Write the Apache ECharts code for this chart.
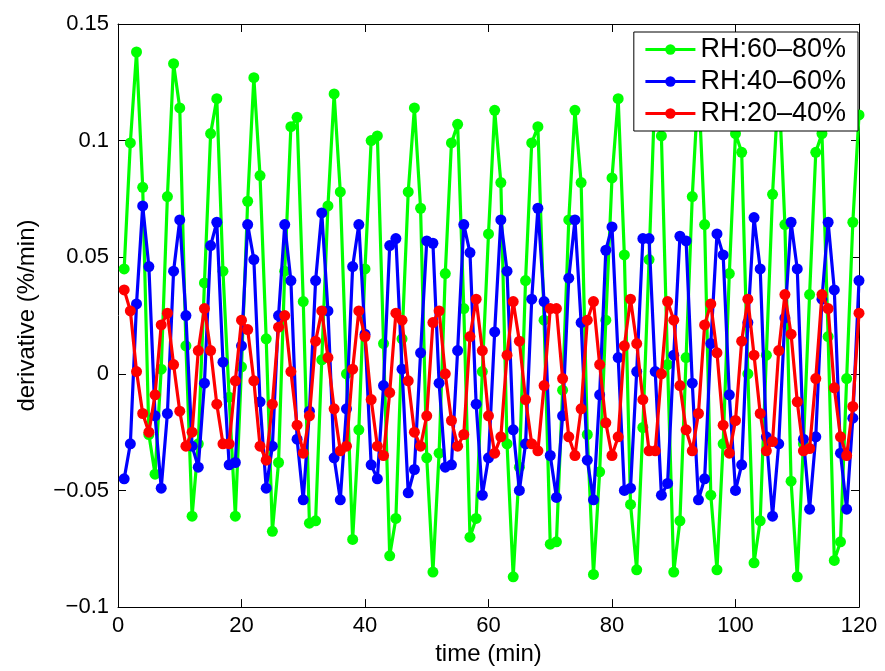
<!DOCTYPE html>
<html>
<head>
<meta charset="utf-8">
<script src="https://cdn.jsdelivr.net/npm/echarts@6/dist/echarts.min.js"></script>
<style>
html,body{margin:0;padding:0;background:#fff;}
#chart{width:885px;height:671px;}
</style>
</head>
<body>
<div id="chart"></div>
<script>
const seriesNames = ['RH:60\u201380%', 'RH:40\u201360%', 'RH:20\u201340%'];
const seriesColors = ['#00ff00', '#0000ff', '#ff0000'];
const xTicks = [0, 20, 40, 60, 80, 100, 120];
const yTicks = [-0.1, -0.05, 0, 0.05, 0.1, 0.15];

const rh6080 = [
 0.045, 0.099, 0.138, 0.080, -0.026, -0.043, 0.002, 0.076, 0.133, 0.114,
 0.012, -0.061, -0.030, 0.039, 0.103, 0.118, 0.044, -0.010, -0.061, 0.003,
 0.074, 0.127, 0.085, 0.015, -0.0675, -0.038, 0.044, 0.106, 0.110, 0.031,
 -0.064, -0.063, 0.006, 0.072, 0.120, 0.078, 0.000, -0.071, -0.024, 0.045,
 0.100, 0.102, 0.013, -0.078, -0.062, 0.015, 0.078, 0.114, 0.071, -0.036,
 -0.085, -0.034, 0.043, 0.099, 0.107, 0.028, -0.070, -0.062, 0.001, 0.060,
 0.113, 0.082, -0.030, -0.087, -0.040, 0.040, 0.099, 0.106, 0.023, -0.073,
 -0.072, -0.007, 0.066, 0.113, 0.082, -0.026, -0.086, -0.042, 0.023, 0.084,
 0.118, 0.051, -0.056, -0.084, -0.023, 0.049, 0.125, 0.102, 0.004, -0.085,
 -0.063, 0.007, 0.076, 0.125, 0.064, -0.052, -0.084, -0.030, 0.043, 0.103,
 0.095, 0.000, -0.081, -0.063, 0.008, 0.077, 0.125, 0.064, -0.046, -0.087,
 -0.030, 0.034, 0.095, 0.103, 0.016, -0.080, -0.072, -0.002, 0.065, 0.111
];
const rh4060 = [
 -0.045, -0.030, 0.030, 0.072, 0.046, -0.018, -0.049, -0.017, 0.044, 0.066,
 0.025, -0.031, -0.040, -0.004, 0.055, 0.065, 0.005, -0.039, -0.038, 0.012,
 0.064, 0.049, -0.012, -0.049, -0.031, 0.025, 0.064, 0.040, -0.028, -0.054,
 -0.016, 0.040, 0.069, 0.027, -0.036, -0.054, -0.015, 0.046, 0.064, 0.017,
 -0.039, -0.045, -0.005, 0.055, 0.058, 0.002, -0.051, -0.041, 0.009, 0.057,
 0.056, -0.004, -0.040, -0.039, 0.010, 0.064, 0.052, -0.013, -0.052, -0.036,
 0.018, 0.066, 0.044, -0.024, -0.050, -0.030, 0.032, 0.071, 0.031, -0.035,
 -0.053, -0.018, 0.041, 0.066, 0.022, -0.037, -0.054, -0.009, 0.053, 0.063,
 0.007, -0.050, -0.049, 0.001, 0.058, 0.058, 0.001, -0.052, -0.047, 0.008,
 0.059, 0.057, -0.004, -0.054, -0.045, 0.013, 0.060, 0.051, -0.009, -0.050,
 -0.039, 0.022, 0.067, 0.045, -0.027, -0.061, -0.030, 0.024, 0.065, 0.045,
 -0.028, -0.058, -0.027, 0.032, 0.065, 0.036, -0.034, -0.058, -0.019, 0.040
];
const rh2040 = [
 0.036, 0.027, 0.001, -0.017, -0.025, -0.009, 0.021, 0.026, 0.004, -0.016,
 -0.031, -0.025, 0.010, 0.028, 0.010, -0.013, -0.030, -0.030, -0.003, 0.023,
 0.019, -0.003, -0.031, -0.037, -0.013, 0.020, 0.025, 0.001, -0.022, -0.034,
 -0.018, 0.014, 0.027, 0.007, -0.015, -0.033, -0.031, 0.002, 0.027, 0.016,
 -0.011, -0.031, -0.035, -0.008, 0.026, 0.023, -0.003, -0.025, -0.031, -0.018,
 0.022, 0.027, 0.000, -0.020, -0.031, -0.026, 0.016, 0.032, 0.010, -0.018,
 -0.034, -0.027, 0.008, 0.031, 0.014, -0.011, -0.030, -0.033, -0.005, 0.028,
 0.028, -0.002, -0.027, -0.035, -0.015, 0.023, 0.031, 0.004, -0.021, -0.035,
 -0.027, 0.012, 0.032, 0.013, -0.011, -0.033, -0.033, 0.000, 0.031, 0.023,
 -0.005, -0.024, -0.033, -0.017, 0.021, 0.030, 0.009, -0.022, -0.034, -0.020,
 0.014, 0.032, 0.008, -0.017, -0.033, -0.029, 0.010, 0.034, 0.017, -0.012,
 -0.033, -0.032, -0.002, 0.034, 0.028, -0.006, -0.027, -0.035, -0.014, 0.026
];
// sample times (min): one sample per minute
const time = rh6080.map((_, i) => i + 1);

const allSeries = [rh6080, rh4060, rh2040];
const FONT = 'Liberation Sans, Arial, Helvetica, sans-serif';

function fmtY(v) {
  const r = Math.round(v * 1000) / 1000;
  return String(r).replace('-', '\u2212');
}

const chart = echarts.init(document.getElementById('chart'), null, {renderer: 'canvas'});
const axisCommon = {
  axisLine: {show: true, onZero: false, lineStyle: {color: '#000', width: 1}},
  axisTick: {show: true, inside: true, length: 8, lineStyle: {color: '#000', width: 1}},
  splitLine: {show: false}
};
const option = {
  backgroundColor: '#fff',
  animation: false,
  textStyle: {fontFamily: FONT},
  grid: {left: 118, right: 26, top: 24, bottom: 61, containLabel: false},
  legend: {
    orient: 'vertical',
    right: 27, top: 32,
    backgroundColor: '#fff',
    borderColor: '#000', borderWidth: 1,
    padding: [4, 12, 4, 10],
    itemGap: 5,
    itemWidth: 50, itemHeight: 13,
    lineStyle: {width: 3.2},
    textStyle: {fontFamily: FONT, fontSize: 27, color: '#000'},
    data: seriesNames
  },
  xAxis: [
    Object.assign({
      type: 'value', min: xTicks[0], max: xTicks[xTicks.length - 1], interval: 20,
      position: 'bottom',
      name: 'time (min)', nameLocation: 'middle', nameGap: 34,
      nameTextStyle: {fontFamily: FONT, fontSize: 24, color: '#000'},
      axisLabel: {fontFamily: FONT, fontSize: 22, color: '#000', margin: 8}
    }, axisCommon),
    Object.assign({
      type: 'value', min: xTicks[0], max: xTicks[xTicks.length - 1], interval: 20,
      position: 'top', axisLabel: {show: false}
    }, axisCommon)
  ],
  yAxis: [
    Object.assign({
      type: 'value', min: yTicks[0], max: yTicks[yTicks.length - 1], interval: 0.05,
      position: 'left',
      name: 'derivative (%/min)', nameLocation: 'middle', nameGap: 79, nameRotate: 90,
      nameTextStyle: {fontFamily: FONT, fontSize: 24, color: '#000'},
      axisLabel: {fontFamily: FONT, fontSize: 22, color: '#000', margin: 9, formatter: fmtY}
    }, axisCommon),
    Object.assign({
      type: 'value', min: yTicks[0], max: yTicks[yTicks.length - 1], interval: 0.05,
      position: 'right', axisLabel: {show: false}
    }, axisCommon)
  ],
  series: allSeries.map((vals, k) => ({
    name: seriesNames[k],
    type: 'line',
    xAxisIndex: 0, yAxisIndex: 0,
    data: vals.map((v, i) => [time[i], v]),
    symbol: 'circle',
    symbolSize: 11,
    showAllSymbol: true,
    lineStyle: {color: seriesColors[k], width: 3.2},
    itemStyle: {color: seriesColors[k]},
    z: 2 + k
  }))
};
chart.setOption(option);
</script>
</body>
</html>
